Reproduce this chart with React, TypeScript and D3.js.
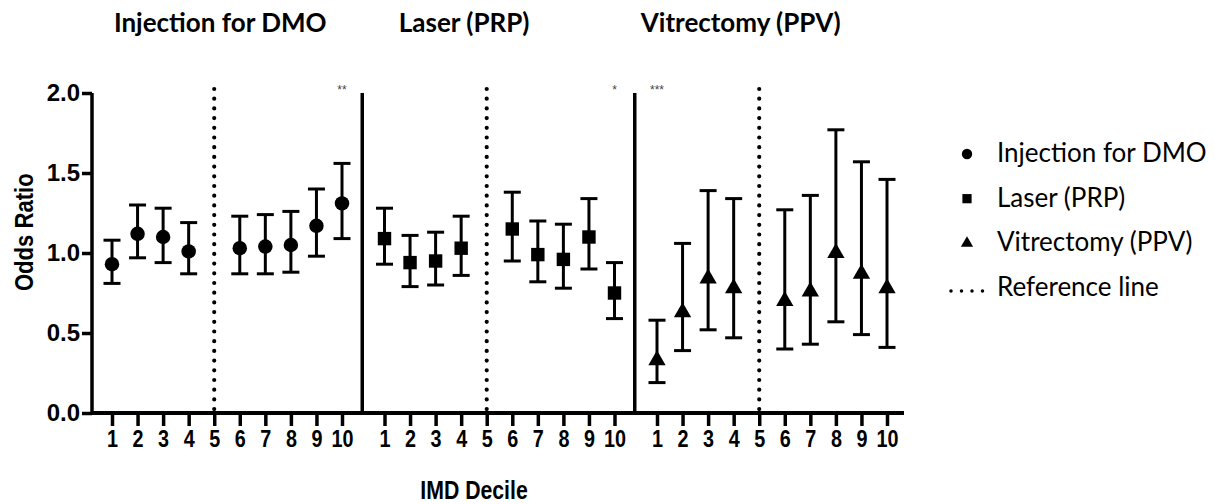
import React, { useEffect, useRef } from 'react';
import * as d3 from 'd3';

// IMD deciles, decile 5 is the reference group
const deciles = [1, 2, 3, 4, 5, 6, 7, 8, 9, 10];
const panelTitles = ['Injection for DMO', 'Laser (PRP)', 'Vitrectomy (PPV)'];
const yTicks = [0, 0.5, 1, 1.5, 2];

const dmoOR = [0.93, 1.12, 1.10, 1.01, null, 1.03, 1.04, 1.05, 1.17, 1.31];
const dmoLow = [0.81, 0.97, 0.94, 0.87, null, 0.87, 0.87, 0.88, 0.98, 1.09];
const dmoHigh = [1.08, 1.30, 1.28, 1.19, null, 1.23, 1.24, 1.26, 1.40, 1.56];

const prpOR = [1.09, 0.94, 0.95, 1.03, null, 1.15, 0.99, 0.96, 1.10, 0.75];
const prpLow = [0.93, 0.79, 0.80, 0.86, null, 0.95, 0.82, 0.78, 0.90, 0.59];
const prpHigh = [1.28, 1.11, 1.13, 1.23, null, 1.38, 1.20, 1.18, 1.34, 0.94];

const ppvOR = [0.33, 0.63, 0.84, 0.78, null, 0.70, 0.76, 1.00, 0.87, 0.78];
const ppvLow = [0.19, 0.39, 0.52, 0.47, null, 0.40, 0.43, 0.57, 0.49, 0.41];
const ppvHigh = [0.58, 1.06, 1.39, 1.34, null, 1.27, 1.36, 1.77, 1.57, 1.46];

const sigPanel = [0, 1, 2];
const sigDecile = [10, 10, 1];
const sigText = ['**', '*', '***'];

const legendLabels = ['Injection for DMO', 'Laser (PRP)', 'Vitrectomy (PPV)', 'Reference line'];

const W = 1215;
const H = 504;
const boldFont = '"Liberation Sans", Arial, sans-serif';
const softFont = 'Lato, "Open Sans", sans-serif';

const App: React.FC = () => {
    const svgRef = useRef<SVGSVGElement | null>(null);

    useEffect(() => {
        if (!svgRef.current) return;
        const svg = d3.select(svgRef.current);
        svg.selectAll('*').remove();

        const y = d3.scaleLinear().domain([0, 2]).range([413, 93]);
        const panelStep = 272.5;
        const xs = panelTitles.map((_, p) =>
            d3.scalePoint<number>().domain(deciles).range([112 + panelStep * p, 342 + panelStep * p])
        );
        const axisLeftX = xs[0](1)! - 20;
        const axisRightX = xs[2](10)! + 17;

        const series = [
            { or: dmoOR, low: dmoLow, high: dmoHigh, shape: d3.symbolCircle, size: 165 },
            { or: prpOR, low: prpLow, high: prpHigh, shape: d3.symbolSquare, size: 180 },
            { or: ppvOR, low: ppvLow, high: ppvHigh, shape: d3.symbolTriangle, size: 130 },
        ];

        // y axis
        svg.append('g')
            .attr('transform', `translate(${axisLeftX},0)`)
            .call(d3.axisLeft(y).tickValues(yTicks).tickFormat(d3.format('.1f')).tickSize(10).tickPadding(2))
            .call(g => g.select('.domain').attr('stroke-width', 3.5).attr('d', `M0,${y(2)}V${y(0) + 1.5}`))
            .call(g => g.selectAll('.tick line').attr('stroke-width', 3.5))
            .call(g => g.selectAll('.tick text')
                .attr('font-family', boldFont).attr('font-weight', 'bold')
                .attr('font-size', 24).attr('fill', '#000'));

        // x axes per panel
        xs.forEach((x) => {
            svg.append('g')
                .attr('transform', `translate(0,${y(0)})`)
                .call(d3.axisBottom(x).tickSize(13).tickPadding(5).tickSizeOuter(0))
                .call(g => g.select('.domain').remove())
                .call(g => g.selectAll('.tick line').attr('stroke-width', 3.5))
                .call(g => g.selectAll('.tick text')
                    .attr('font-family', boldFont).attr('font-weight', 'bold')
                    .attr('font-size', 23).attr('fill', '#000')
                    .attr('transform', 'scale(0.86,1)'));
        });

        svg.append('line')
            .attr('x1', axisLeftX).attr('x2', axisRightX)
            .attr('y1', y(0)).attr('y2', y(0))
            .attr('stroke', '#000').attr('stroke-width', 4);

        // panel separators
        [0, 1].forEach(p => {
            const bx = (xs[p](10)! + xs[p + 1](1)!) / 2 - 1;
            svg.append('line')
                .attr('x1', bx).attr('x2', bx)
                .attr('y1', y(2)).attr('y2', y(0))
                .attr('stroke', '#000').attr('stroke-width', 3.5);
        });

        // reference (decile 5) dotted lines
        xs.forEach(x => {
            svg.append('line')
                .attr('x1', x(5)!).attr('x2', x(5)!)
                .attr('y1', y(2) - 4).attr('y2', y(0))
                .attr('stroke', '#000').attr('stroke-width', 4.2)
                .attr('stroke-linecap', 'round')
                .attr('stroke-dasharray', '0,9.7');
        });

        // error bars + markers
        series.forEach((s, p) => {
            const x = xs[p];
            const g = svg.append('g');
            deciles.forEach((d, i) => {
                const v = s.or[i];
                if (v == null) return;
                const cx = x(d)!;
                const lo = y(s.low[i]!);
                const hi = y(s.high[i]!);
                g.append('line').attr('x1', cx).attr('x2', cx).attr('y1', lo).attr('y2', hi)
                    .attr('stroke', '#000').attr('stroke-width', 3);
                [lo, hi].forEach(yy => {
                    g.append('line').attr('x1', cx - 8.5).attr('x2', cx + 8.5).attr('y1', yy).attr('y2', yy)
                        .attr('stroke', '#000').attr('stroke-width', 3);
                });
                g.append('path')
                    .attr('d', d3.symbol().type(s.shape).size(s.size)())
                    .attr('transform', `translate(${cx},${y(v)})`)
                    .attr('fill', '#000');
            });
        });

        // significance marks
        sigPanel.forEach((p, i) => {
            svg.append('text')
                .attr('x', xs[p](sigDecile[i])!)
                .attr('y', y(2) + 1)
                .attr('text-anchor', 'middle')
                .attr('font-family', boldFont)
                .attr('font-size', 12)
                .attr('fill', '#444')
                .text(sigText[i]);
        });

        // panel titles
        panelTitles.forEach((t, p) => {
            const x = xs[p];
            svg.append('text')
                .attr('x', p === 0 ? x(5)! + 6 : p === 1 ? x(4)! + 3 : x(4)! + 7)
                .attr('y', 32)
                .attr('text-anchor', 'middle')
                .attr('font-family', softFont)
                .attr('font-weight', 'bold')
                .attr('font-size', 26)
                .attr('fill', '#000')
                .text(t);
        });

        // axis titles
        svg.append('text')
            .attr('transform', `translate(33,${y(1.13)}) rotate(-90) scale(0.85,1)`)
            .attr('text-anchor', 'middle')
            .attr('font-family', boldFont)
            .attr('font-weight', 'bold')
            .attr('font-size', 26)
            .attr('fill', '#000')
            .text('Odds Ratio');

        svg.append('text')
            .attr('transform', `translate(${(axisLeftX + axisRightX) / 2 - 24},499) scale(0.85,1)`)
            .attr('text-anchor', 'middle')
            .attr('font-family', boldFont)
            .attr('font-weight', 'bold')
            .attr('font-size', 25)
            .attr('fill', '#000')
            .text('IMD Decile');

        // legend
        const legY = d3.scalePoint<string>().domain(legendLabels).range([153, 287]);
        const legShapes = [d3.symbolCircle, d3.symbolSquare, d3.symbolTriangle];
        const legSizes = [85, 85, 65];
        legendLabels.forEach((lab, i) => {
            const ly = legY(lab)!;
            if (i < 3) {
                svg.append('path')
                    .attr('d', d3.symbol().type(legShapes[i]).size(legSizes[i])())
                    .attr('transform', `translate(967,${ly + 1})`)
                    .attr('fill', '#000');
            } else {
                svg.append('line')
                    .attr('x1', 951).attr('x2', 984)
                    .attr('y1', ly + 4).attr('y2', ly + 4)
                    .attr('stroke', '#000').attr('stroke-width', 3.5)
                    .attr('stroke-linecap', 'round')
                    .attr('stroke-dasharray', '0,10.5');
            }
            svg.append('text')
                .attr('x', 997)
                .attr('y', ly)
                .attr('dy', '0.35em')
                .attr('font-family', softFont)
                .attr('font-size', 26)
                .attr('fill', '#000')
                .text(lab);
        });
    }, []);

    return (
        <svg
            ref={svgRef}
            width={W}
            height={H}
            style={{ position: 'absolute', left: 0, top: 0, background: '#fff' }}
        />
    );
};

export default App;
